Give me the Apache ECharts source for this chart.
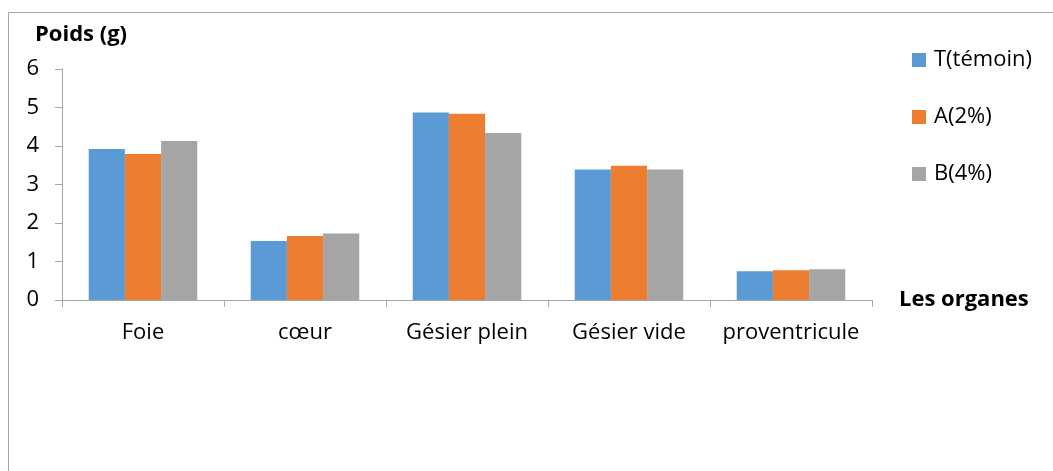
<!DOCTYPE html>
<html>
<head>
<meta charset="utf-8">
<script src="https://cdn.jsdelivr.net/npm/echarts@6/dist/echarts.min.js"></script>
<style>
  html, body { margin: 0; padding: 0; background: #fff; }
  #chart { width: 1053px; height: 471px; }
</style>
</head>
<body>
<div id="chart"></div>
<script>
// Organ weights (g) for the three groups
const categories = ['Foie', 'cœur', 'Gésier plein', 'Gésier vide', 'proventricule'];
const seriesNames = ['T(témoin)', 'A(2%)', 'B(4%)'];
const valuesT = [3.92, 1.53, 4.87, 3.39, 0.75];
const valuesA = [3.79, 1.66, 4.84, 3.49, 0.77];
const valuesB = [4.13, 1.73, 4.34, 3.39, 0.80];
const yTicks = [0, 1, 2, 3, 4, 5, 6];

const colors = ['#5b9bd5', '#ed7d31', '#a5a5a5'];
const FONT = '"Open Sans", Lato, sans-serif';
const FS = 22;
const axisGray = '#a6a6a6';

const chart = echarts.init(document.getElementById('chart'), null, { renderer: 'canvas' });

const seriesData = [valuesT, valuesA, valuesB];

chart.setOption({
  animation: false,
  color: colors,
  title: {
    text: 'Poids (g)',
    left: 30,
    top: 19,
    textStyle: { fontFamily: FONT, fontSize: FS, fontWeight: 'bold', color: '#000' }
  },
  legend: {
    orient: 'vertical',
    left: 907,
    top: 44,
    itemWidth: 14,
    itemHeight: 14,
    itemGap: 35,
    icon: 'rect',
    data: seriesNames,
    textStyle: { fontFamily: FONT, fontSize: FS, color: '#000', padding: [0, 0, 0, 3] }
  },
  grid: { left: 62, right: 181, top: 69, bottom: 171, containLabel: false },
  xAxis: {
    type: 'category',
    data: categories,
    name: 'Les organes',
    nameLocation: 'end',
    nameGap: 27,
    nameTextStyle: { fontFamily: FONT, fontSize: FS, fontWeight: 'bold', color: '#000' },
    axisLine: { lineStyle: { color: axisGray, width: 1 } },
    axisTick: { show: true, length: 7, lineStyle: { color: axisGray } },
    axisLabel: { fontFamily: FONT, fontSize: FS, color: '#000', margin: 22, interval: 0, hideOverlap: false }
  },
  yAxis: {
    type: 'value',
    min: yTicks[0],
    max: yTicks[yTicks.length - 1],
    interval: 1,
    axisLine: { show: true, lineStyle: { color: axisGray, width: 1 } },
    axisTick: { show: true, length: 7, lineStyle: { color: axisGray } },
    splitLine: { show: false },
    axisLabel: { fontFamily: FONT, fontSize: FS, color: '#000', margin: 23 }
  },
  series: seriesNames.map((name, i) => ({
    name: name,
    type: 'bar',
    data: seriesData[i],
    barGap: '0%',
    barCategoryGap: '33%'
  })),
  graphic: [
    {
      type: 'polyline',
      shape: { points: [[8.5, 480], [8.5, 12.5], [1060, 12.5]] },
      style: { stroke: '#a6a6a6', lineWidth: 1, fill: null },
      silent: true
    }
  ]
});
</script>
</body>
</html>
